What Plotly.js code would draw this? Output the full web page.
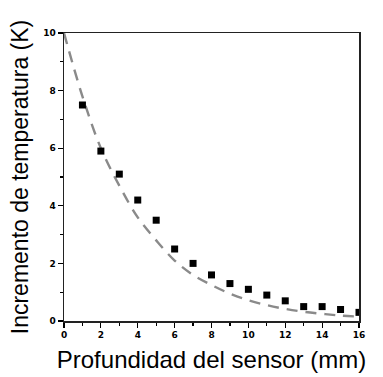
<!DOCTYPE html>
<html><head><meta charset="utf-8">
<script src="https://cdn.plot.ly/plotly-3.0.1.min.js"></script>
<style>html,body{margin:0;padding:0;background:#fff}#c{width:383px;height:377px}</style>
</head><body><div id="c"></div>
<script>
// Measured data (squares)
const depth = [1,2,3,4,5,6,7,8,9,10,11,12,13,14,15,16];
const measured = [7.5,5.9,5.1,4.2,3.5,2.5,2.0,1.6,1.3,1.1,0.9,0.7,0.5,0.5,0.4,0.3];
// Model curve (dashed)
const modelDepth = [0,1,2,3,4,5,6,7,8,9,10,11,12,13,14,15,16];
const modelTemp = [10,7.8,6.0,4.7,3.6,2.8,2.1,1.6,1.25,0.95,0.72,0.55,0.42,0.32,0.25,0.19,0.15];
const xTicks = [0,2,4,6,8,10,12,14,16];
const yTicks = [0,2,4,6,8,10];

const traces = [
  {x: modelDepth, y: modelTemp, mode:'lines', line:{color:'#8a8a8a', width:2.4, dash:'11px,8px', shape:'spline'}, hoverinfo:'none'},
  {x: depth, y: measured, mode:'markers', marker:{symbol:'square', size:7, color:'#000'}, hoverinfo:'none'}
];
const tickFont = {family:'DejaVu Sans, Arial', size:9, color:'#000', weight:'bold'};
const layout = {
  width:383, height:377,
  margin:{l:64, r:24, t:33, b:56},
  showlegend:false,
  paper_bgcolor:'#fff', plot_bgcolor:'#fff',
  xaxis:{range:[0,16], tickvals:xTicks, ticktext:xTicks.map(String), ticks:'outside', ticklen:5, tickwidth:1.2, tickcolor:'#000',
    showline:true, linecolor:'#222', linewidth:1.5, mirror:true, showgrid:false, zeroline:false, tickfont:tickFont,
    minor:{dtick:1, tick0:0, ticks:'outside', ticklen:3, tickcolor:'#000', showgrid:false},
    title:{text:'Profundidad del sensor (mm)', font:{family:'Liberation Sans, Arial', size:24, color:'#000'}, standoff:12}},
  yaxis:{range:[0,10], tickvals:yTicks, ticktext:yTicks.map(String), ticks:'outside', ticklen:5, tickwidth:1.2, tickcolor:'#000',
    showline:true, linecolor:'#222', linewidth:1.5, mirror:true, showgrid:false, zeroline:false, tickfont:tickFont,
    minor:{dtick:1, tick0:0, ticks:'outside', ticklen:3, tickcolor:'#000', showgrid:false},
    title:{text:'Incremento de temperatura (K)', font:{family:'Liberation Sans, Arial', size:23, color:'#000'}, standoff:8}}
};
Plotly.newPlot('c', traces, layout, {staticPlot:true, displayModeBar:false});
</script></body></html>
